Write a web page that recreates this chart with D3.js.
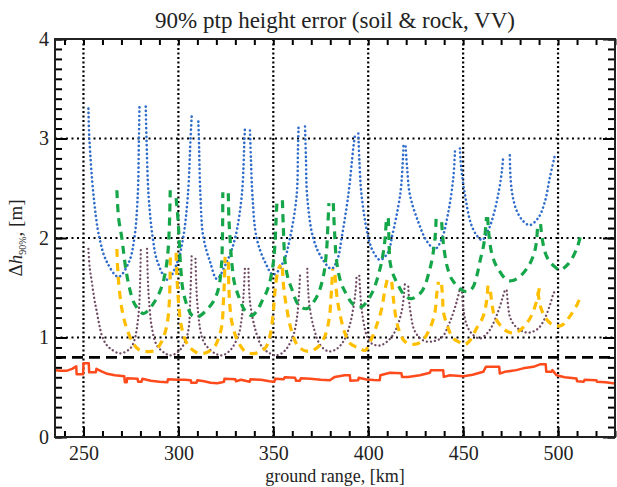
<!DOCTYPE html>
<html>
<head>
<meta charset="utf-8">
<script src="https://cdn.jsdelivr.net/npm/d3@7"></script>
<style>
  body { margin: 0; background: #fff; }
  svg { display: block; font-family: "Liberation Serif", "DejaVu Serif", serif; }
</style>
</head>
<body>
<svg id="chartSVG" width="617" height="487"></svg>
<script>
const chartTitle = "90% ptp height error (soil & rock, VV)";
const xLabel = "ground range, [km]";
const xDomain = [235, 530];
const yDomain = [0, 4];
const xMajorTicks = [250, 300, 350, 400, 450, 500];
const yMajorTicks = [0, 1, 2, 3, 4];
const xGrid = [250, 300, 350, 400, 450, 500];
const yGrid = [1, 2, 3];

// blue dotted: one arc per swath, [ground range km, height error m]
const blueArcs = [
  [[252.6,3.30],[253.1,3.0],[255.3,2.43],[258.4,2.0],[262.3,1.76],[268.4,1.61],[274.0,1.76],[276.8,2.0],[278.6,2.43],[279.2,3.0],[279.5,3.32]],
  [[282.8,3.32],[283.2,3.0],[284.3,2.43],[286.5,2.0],[289.0,1.76],[294.3,1.58],[299.5,1.76],[302.5,2.0],[305.0,2.43],[306.4,3.0],[307.0,3.22]],
  [[310.5,3.17],[310.8,3.0],[311.6,2.43],[313.2,2.0],[316.7,1.76],[320.2,1.59],[325.5,1.76],[329.9,2.0],[333.4,2.43],[334.8,3.0],[335.1,3.12]],
  [[337.7,3.08],[338.2,2.8],[339.0,2.43],[341.2,2.0],[345.6,1.76],[350.0,1.63],[355.3,1.76],[358.8,2.0],[362.3,2.43],[363.0,2.9],[363.3,3.12]],
  [[366.7,3.12],[367.2,2.8],[367.8,2.43],[371.0,2.0],[375.5,1.8],[380.7,1.69],[384.0,1.8],[386.0,2.0],[389.5,2.43],[392.1,2.9],[393.0,3.03]],
  [[394.8,3.05],[395.3,2.8],[396.5,2.43],[400.1,2.0],[402.7,1.86],[406.2,1.78],[410.6,1.86],[412.4,2.0],[416.8,2.43],[418.3,2.8],[418.6,2.95]],
  [[419.7,2.92],[420.5,2.7],[422.0,2.43],[426.4,2.16],[430.8,1.97],[435.2,1.89],[438.7,1.99],[442.2,2.26],[444.8,2.6],[445.7,2.87]],
  [[448.3,2.9],[449.0,2.7],[451.0,2.43],[454.0,2.15],[457.0,2.03],[460.0,1.98],[462.5,2.05],[464.9,2.16],[468.4,2.43],[470.6,2.7],[471.1,2.83]],
  [[474.6,2.83],[475.0,2.6],[476.0,2.43],[478.1,2.28],[481.6,2.17],[485.1,2.13],[489.5,2.2],[493.0,2.36],[495.6,2.6],[498.3,2.83]]
];

// green dashed
const greenArcs = [
  [[267.6,2.48],[268.5,2.2],[270.2,2.0],[272.3,1.69],[274.2,1.5],[276.3,1.36],[279.0,1.28],[281.6,1.24],[284.0,1.27],[286.8,1.34],[290.0,1.45],[292.4,1.59],[294.2,1.8],[295.2,2.1],[295.7,2.48]],
  [[298.8,2.40],[299.9,2.16],[300.6,1.9],[301.4,1.66],[302.3,1.49],[304.6,1.32],[307.3,1.22],[310.5,1.21],[314.0,1.26],[318.4,1.36],[321.1,1.49],[322.6,1.7],[323.2,2.0],[323.4,2.46]],
  [[326.3,2.45],[326.6,2.2],[327.2,2.0],[328.1,1.76],[329.5,1.55],[331.6,1.42],[335.1,1.27],[338.6,1.22],[341.5,1.27],[343.9,1.36],[346.5,1.46],[348.3,1.57],[350.0,1.75],[350.9,1.95],[351.5,2.2],[351.9,2.36]],
  [[354.8,2.38],[355.3,2.1],[356.2,1.76],[357.7,1.6],[359.7,1.49],[363.2,1.33],[367.6,1.29],[372.9,1.41],[376.4,1.62],[378.1,1.89],[378.8,2.15],[379.3,2.35]],
  [[381.6,2.35],[382.3,2.05],[383.4,1.76],[385.5,1.56],[387.8,1.46],[392.2,1.33],[396.5,1.31],[401.8,1.44],[406.2,1.69],[408.3,1.9],[409.1,2.05],[409.6,2.2]],
  [[410.6,2.2],[410.9,2.0],[411.5,1.76],[413.0,1.64],[414.9,1.56],[419.3,1.42],[422.8,1.39],[428.1,1.46],[432.5,1.69],[434.6,1.9],[435.4,2.05],[435.8,2.21]],
  [[438.7,2.16],[439.3,2.0],[440.4,1.83],[441.9,1.69],[443.9,1.59],[448.3,1.49],[452.0,1.46],[455.0,1.5],[457.2,1.62],[458.8,1.76],[461.0,1.95],[462.3,2.21]],
  [[462.9,2.21],[463.6,2.03],[464.9,1.86],[466.5,1.76],[468.4,1.69],[472.8,1.58],[475.4,1.57],[479.8,1.61],[485.1,1.74],[487.6,1.86],[488.6,1.96],[489.3,2.15]],
  [[490.8,2.14],[491.6,2.0],[493.1,1.86],[495.0,1.78],[498.3,1.71],[501.0,1.68],[505.4,1.74],[509.8,1.89],[512.3,2.06]]
];

// purple dotted
const purpleArcs = [
  [[252.6,1.89],[253.3,1.7],[254.4,1.56],[255.6,1.4],[257.0,1.26],[259.7,1.02],[262.0,0.93],[264.1,0.89],[269.3,0.84],[274.6,0.89],[276.8,0.97],[278.1,1.09],[279.3,1.3],[279.9,1.6],[280.2,1.89]],
  [[283.5,1.89],[283.9,1.6],[284.5,1.38],[286.1,1.09],[288.7,0.92],[293.1,0.84],[295.8,0.82],[300.1,0.86],[303.6,0.96],[305.4,1.09],[306.3,1.42],[307.0,1.83]],
  [[309.0,1.79],[309.4,1.55],[309.9,1.36],[311.4,1.09],[313.0,0.97],[315.0,0.91],[319.3,0.84],[322.8,0.82],[327.2,0.87],[331.6,1.02],[333.4,1.2],[334.4,1.45],[335.1,1.71]],
  [[336.9,1.69],[337.2,1.5],[337.9,1.33],[340.4,1.09],[343.9,0.91],[348.3,0.84],[351.8,0.82],[356.2,0.87],[360.5,1.02],[362.6,1.22],[363.6,1.45],[364.1,1.63]],
  [[367.9,1.69],[368.3,1.5],[369.0,1.33],[371.4,1.09],[374.9,0.92],[379.3,0.86],[383.7,0.89],[387.5,0.98],[390.2,1.12],[392.2,1.3],[393.4,1.48],[393.9,1.63]],
  [[395.3,1.62],[395.8,1.45],[396.5,1.29],[399.2,1.02],[401.8,0.94],[406.2,0.92],[410.6,0.97],[414.1,1.06],[417.6,1.26],[418.9,1.45],[419.4,1.56]],
  [[421.1,1.51],[421.5,1.38],[422.2,1.26],[424.6,1.06],[429.0,0.97],[433.4,0.96],[438.7,1.0],[443.1,1.16],[446.6,1.36],[448.3,1.49]],
  [[449.4,1.49],[450.0,1.3],[452.0,1.12],[455.0,1.03],[458.8,0.99],[462.0,1.03],[464.5,1.09],[468.4,1.26],[471.1,1.42],[471.9,1.47]],
  [[473.0,1.47],[473.8,1.3],[474.8,1.2],[477.2,1.12],[481.6,1.06],[485.1,1.05],[489.5,1.09],[493.0,1.19],[495.6,1.32],[497.4,1.43],[498.3,1.47]]
];

// yellow dashed
const yellowArcs = [
  [[267.6,1.89],[268.0,1.7],[268.5,1.56],[270.2,1.29],[272.8,1.09],[276.3,0.94],[279.0,0.88],[282.5,0.86],[287.7,0.87],[291.2,0.96],[293.9,1.12],[295.2,1.35],[295.6,1.6],[295.8,1.86]],
  [[298.8,1.85],[299.4,1.55],[300.3,1.3],[301.5,1.12],[303.5,0.98],[306.0,0.9],[309.5,0.85],[313.0,0.84],[316.0,0.86],[319.5,0.92],[321.3,1.0],[322.9,1.12],[323.7,1.36],[324.3,1.59],[324.6,1.81]],
  [[326.3,1.76],[326.6,1.5],[327.2,1.3],[328.1,1.16],[330.7,0.99],[335.1,0.86],[340.4,0.84],[345.6,0.89],[348.3,1.02],[350.0,1.26],[351.0,1.49],[352.7,1.69],[354.0,1.73]],
  [[354.8,1.7],[355.5,1.5],[357.1,1.29],[359.7,1.06],[363.2,0.91],[368.5,0.86],[373.8,0.91],[377.3,1.02],[379.5,1.2],[380.4,1.4],[380.9,1.55],[381.3,1.69]],
  [[382.5,1.63],[383.6,1.4],[385.5,1.2],[387.6,1.05],[390.4,0.94],[395.7,0.89],[398.3,0.87],[401.8,0.99],[404.4,1.12],[407.1,1.29],[408.9,1.49],[410.6,1.61],[411.5,1.63]],
  [[412.4,1.56],[413.2,1.4],[414.1,1.26],[415.9,1.09],[419.3,0.96],[423.7,0.93],[428.1,0.96],[432.5,1.09],[435.2,1.26],[436.0,1.42],[437.0,1.56]],
  [[438.7,1.53],[439.2,1.4],[439.6,1.26],[442.2,1.09],[444.8,0.99],[448.3,0.95],[451.0,0.93],[454.0,0.98],[457.0,1.09],[460.5,1.21],[462.3,1.36],[463.1,1.53]],
  [[464.4,1.46],[465.5,1.3],[466.6,1.21],[471.1,1.09],[474.6,1.05],[478.1,1.05],[482.5,1.12],[486.0,1.22],[488.6,1.36],[490.3,1.51]],
  [[489.4,1.46],[490.2,1.36],[491.5,1.27],[494.5,1.17],[498.0,1.12],[501.8,1.12],[504.5,1.17],[507.2,1.24],[510.0,1.33],[512.3,1.43]]
];

// black dashed threshold
const thresholdLevel = 0.8;

// red solid line
const redLine = [
  [235,0.67],[238,0.665],[241,0.665],[244,0.685],[246.2,0.71],[246.4,0.63],[249.8,0.63],[250.0,0.74],[252.8,0.74],[253.0,0.65],
  [256.5,0.65],[256.8,0.685],[259.5,0.66],[262.5,0.635],[266.5,0.62],[271.5,0.61],[271.8,0.55],[272.8,0.55],[273.0,0.59],[278.5,0.585],
  [278.8,0.555],[280.5,0.555],[281.0,0.585],[285.5,0.565],[290.0,0.555],[294.2,0.55],[294.5,0.58],[299.5,0.575],[303.5,0.575],[306.5,0.57],
  [306.8,0.545],[309.5,0.545],[310.0,0.57],[313.5,0.56],[317.0,0.545],[320.5,0.54],[323.0,0.55],[324.0,0.555],[324.3,0.585],[330.0,0.58],
  [330.3,0.56],[333.0,0.575],[337.5,0.555],[338.0,0.58],[343.5,0.575],[348.0,0.56],[350.5,0.555],[351.0,0.585],[355.5,0.58],[356.0,0.6],
  [361.5,0.595],[362.0,0.565],[364.0,0.565],[364.5,0.59],[369.5,0.585],[375.0,0.575],[379.8,0.571],[382.4,0.604],[387.6,0.621],[390.3,0.621],
  [390.6,0.565],[394.7,0.571],[395.0,0.595],[399.1,0.578],[403.0,0.572],[406.1,0.571],[406.4,0.621],[411.4,0.645],[417.5,0.64],[417.8,0.604],
  [421.0,0.604],[427.2,0.621],[432.5,0.645],[433.0,0.672],[439.5,0.672],[439.8,0.604],[443.0,0.62],[450.1,0.61],[455.0,0.625],[460.6,0.655],
  [462.0,0.705],[469.0,0.705],[469.3,0.638],[472.0,0.655],[478.0,0.672],[481.6,0.69],[487.0,0.705],[490.5,0.73],[493.5,0.73],[493.8,0.655],
  [496.5,0.655],[497.0,0.672],[499.2,0.62],[503.5,0.6],[509.7,0.588],[510.0,0.56],[513.5,0.555],[514.0,0.575],[520.2,0.571],[520.5,0.555],
  [525.0,0.55],[530.0,0.537]
];

const width = 617, height = 487;
const margin = { top: 39, right: 2, bottom: 50, left: 55 };
const serif = "'Liberation Serif', 'DejaVu Serif', serif";

const svg = d3.select("#chartSVG");
const x = d3.scaleLinear().domain(xDomain).range([margin.left, width - margin.right]);
const y = d3.scaleLinear().domain(yDomain).range([height - margin.bottom, margin.top]);

/*
* Dotted grid lines
*/
function drawGrid() {
  const g = svg.append("g").attr("class", "grid");
  g.selectAll("line.vgrid")
    .data(xGrid)
    .enter()
    .append("line")
    .attr("x1", d => x(d)).attr("x2", d => x(d))
    .attr("y1", y(yDomain[0])).attr("y2", y(yDomain[1]))
    .style("stroke", "#000")
    .style("stroke-width", 2.2)
    .style("stroke-dasharray", "2,2.5");
  g.selectAll("line.hgrid")
    .data(yGrid)
    .enter()
    .append("line")
    .attr("x1", x(xDomain[0])).attr("x2", x(xDomain[1]))
    .attr("y1", d => y(d)).attr("y2", d => y(d))
    .style("stroke", "#000")
    .style("stroke-width", 1.8)
    .style("stroke-dasharray", "2,3.5");
}

/*
* Draws a family of arcs with one style
*/
function drawArcs(arcs, color, width, dash, cap) {
  const line = d3.line()
    .x(d => x(d[0]))
    .y(d => y(d[1]))
    .curve(d3.curveCatmullRom.alpha(0.5));
  svg.append("g")
    .attr("clip-path", "url(#plotClip)")
    .selectAll("path")
    .data(arcs)
    .enter()
    .append("path")
    .attr("d", line)
    .style("fill", "none")
    .style("stroke", color)
    .style("stroke-width", width)
    .style("stroke-dasharray", dash)
    .style("stroke-linecap", cap);
}

function drawAxes() {
  const bottom = y(yDomain[0]), top = y(yDomain[1]);
  const left = x(xDomain[0]), right = x(xDomain[1]);
  const xMinor = d3.range(240, 531, 10);
  const yMinor = d3.range(0, 40.5, 1).map(v => v / 10);

  // minor ticks on all four sides (pointing inward)
  const sides = [
    [d3.axisBottom(x).tickValues(xMinor).tickSize(-6), `translate(0,${bottom})`],
    [d3.axisTop(x).tickValues(xMinor).tickSize(-6), `translate(0,${top})`],
    [d3.axisLeft(y).tickValues(yMinor).tickSize(-7), `translate(${left},0)`],
    [d3.axisRight(y).tickValues(yMinor).tickSize(-7), `translate(${right},0)`]
  ];
  sides.forEach(([ax, tr]) => {
    const g = svg.append("g").attr("transform", tr).call(ax.tickFormat("").tickSizeOuter(0));
    g.select(".domain").remove();
    g.selectAll("line").style("stroke", "#000").style("stroke-width", 2);
  });

  // major ticks with labels
  const xb = svg.append("g")
    .attr("transform", `translate(0,${bottom})`)
    .call(d3.axisBottom(x).tickValues(xMajorTicks).tickSize(-10).tickSizeOuter(0)
      .tickPadding(9).tickFormat(d3.format("d")));
  const yl = svg.append("g")
    .attr("transform", `translate(${left},0)`)
    .call(d3.axisLeft(y).tickValues(yMajorTicks).tickSize(-12).tickSizeOuter(0)
      .tickPadding(6).tickFormat(d3.format("d")));
  [xb, yl].forEach(g => {
    g.attr("font-family", serif).attr("font-size", 20);
    g.select(".domain").remove();
    g.selectAll("line").style("stroke", "#000").style("stroke-width", 2);
    g.selectAll("text").style("fill", "#222");
  });
  const yr = svg.append("g")
    .attr("transform", `translate(${right},0)`)
    .call(d3.axisRight(y).tickValues(yMajorTicks).tickSize(-12).tickSizeOuter(0).tickFormat(""));
  yr.select(".domain").remove();
  yr.selectAll("line").style("stroke", "#000").style("stroke-width", 2);

  // frame
  svg.append("rect")
    .attr("x", left).attr("y", top)
    .attr("width", right - left).attr("height", bottom - top)
    .style("fill", "none")
    .style("stroke", "#222")
    .style("stroke-width", 2);
}

function drawLabels() {
  svg.append("text")
    .attr("x", (x(xDomain[0]) + x(xDomain[1])) / 2)
    .attr("y", 28)
    .attr("text-anchor", "middle")
    .style("font-family", serif)
    .style("font-size", "23px")
    .style("fill", "#222")
    .text(chartTitle);

  svg.append("text")
    .attr("x", (x(xDomain[0]) + x(xDomain[1])) / 2)
    .attr("y", 482)
    .attr("text-anchor", "middle")
    .style("font-family", serif)
    .style("font-size", "18px")
    .style("fill", "#222")
    .text(xLabel);

  const yl = svg.append("text")
    .attr("transform", `translate(22,${(y(yDomain[0]) + y(yDomain[1])) / 2}) rotate(-90)`)
    .attr("text-anchor", "middle")
    .style("font-family", serif)
    .style("font-size", "19px")
    .style("fill", "#222");
  yl.append("tspan").text("\u0394");
  yl.append("tspan").style("font-style", "italic").text("h");
  yl.append("tspan").attr("dy", 4).style("font-size", "10px").text("90%");
  yl.append("tspan").attr("dy", -4).text(", [m]");
}

svg.append("defs").append("clipPath").attr("id", "plotClip")
  .append("rect")
  .attr("x", x(xDomain[0])).attr("y", y(yDomain[1]))
  .attr("width", x(xDomain[1]) - x(xDomain[0]))
  .attr("height", y(yDomain[0]) - y(yDomain[1]));

drawGrid();
drawArcs(purpleArcs, "#6f4b63", 2.3, "0.1,4", "round");
drawArcs(blueArcs, "#2f6ccb", 2.6, "0.1,4.2", "round");
drawArcs(yellowArcs, "#ffbf00", 3.2, "8,6", "butt");
drawArcs(greenArcs, "#16a64a", 3.2, "8,6", "butt");

svg.append("line")
  .attr("x1", x(xDomain[0])).attr("x2", x(xDomain[1]))
  .attr("y1", y(thresholdLevel)).attr("y2", y(thresholdLevel))
  .style("stroke", "#000")
  .style("stroke-width", 2.6)
  .style("stroke-dasharray", "11,6");

svg.append("path")
  .datum(redLine)
  .attr("clip-path", "url(#plotClip)")
  .attr("d", d3.line().x(d => x(d[0])).y(d => y(d[1])))
  .style("fill", "none")
  .style("stroke", "#ff4a1c")
  .style("stroke-width", 2.5)
  .style("stroke-linejoin", "round");

drawAxes();
drawLabels();
</script>
</body>
</html>
